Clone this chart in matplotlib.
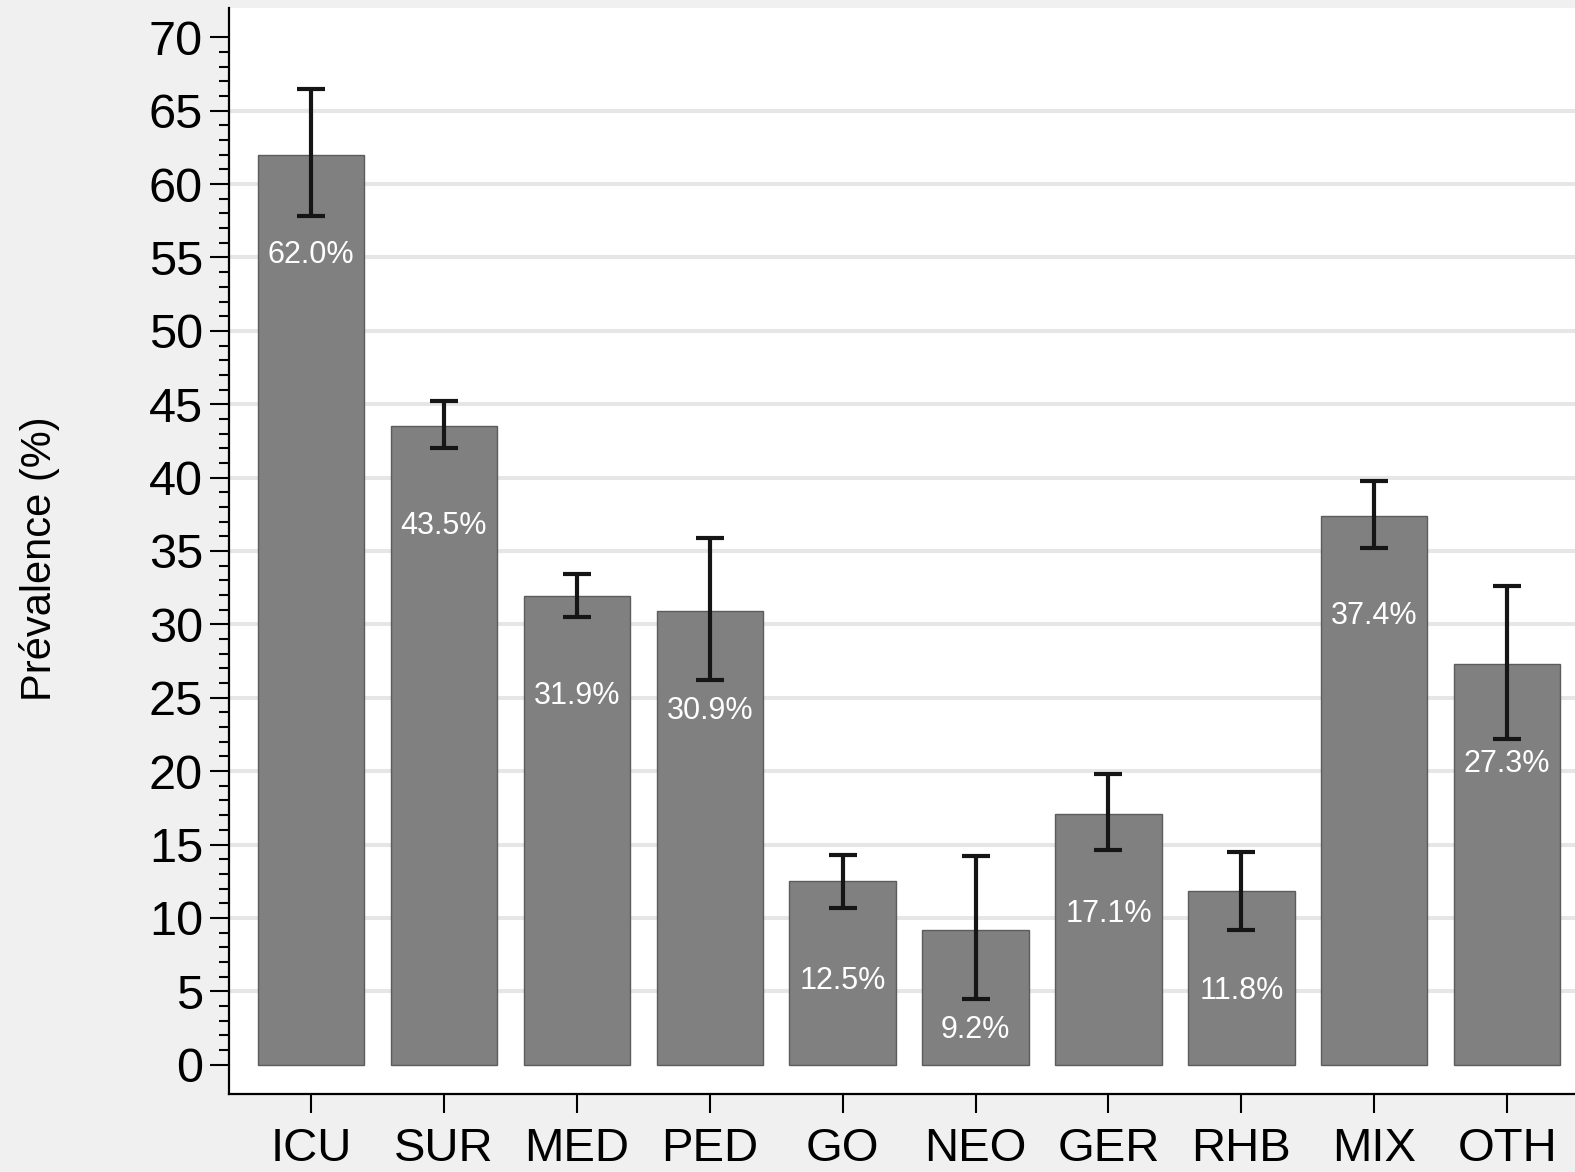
import matplotlib.pyplot as plt
import numpy as np
from matplotlib.ticker import FixedLocator

plt.rcParams['font.family'] = ['Liberation Sans', 'DejaVu Sans']

# prevalence by ward type, with 95% CI
wards = ['ICU', 'SUR', 'MED', 'PED', 'GO', 'NEO', 'GER', 'RHB', 'MIX', 'OTH']
prev = [62.0, 43.5, 31.9, 30.9, 12.5, 9.2, 17.1, 11.8, 37.4, 27.3]
ci_low = [57.8, 42.0, 30.5, 26.2, 10.7, 4.5, 14.6, 9.2, 35.2, 22.2]
ci_high = [66.5, 45.2, 33.4, 35.9, 14.3, 14.2, 19.8, 14.5, 39.8, 32.6]
yticks = list(range(0, 71, 5))

W, H = 1575, 1172
fig = plt.figure(figsize=(W / 100, H / 100), dpi=100, facecolor='#f0f0f0')
ax = fig.add_axes([229 / W, 78 / H, 1 - 229 / W, (1094 - 8) / H])
ax.set_facecolor('white')

x = np.arange(len(wards))
prev = np.array(prev)
yerr = [prev - np.array(ci_low), np.array(ci_high) - prev]

ax.bar(x, prev, width=0.8, color='#808080', edgecolor='#5c5c5c', linewidth=1.0, zorder=2)
ax.errorbar(x, prev, yerr=yerr, fmt='none', ecolor='#151515', elinewidth=3,
            capsize=10, capthick=3, zorder=3)

for xi, v in zip(x, prev):
    ax.annotate(f'{v:.1f}%', (xi, v), xytext=(0, -72), textcoords='offset points',
                ha='center', va='center', color='white', fontsize=22, zorder=4)

ax.set_xlim(-0.617, 9.51)
ax.set_ylim(-2, 72)
ax.set_xticks(x)
ax.set_xticklabels(wards, fontsize=34)
ax.set_yticks(yticks)
ax.set_yticklabels([str(t) for t in yticks], fontsize=35)
ax.yaxis.set_minor_locator(FixedLocator(np.arange(0, 71, 1)))

ax.tick_params(axis='y', which='major', length=13.7, width=1.5, pad=5)
ax.tick_params(axis='y', which='minor', length=7.2, width=1.5)
ax.tick_params(axis='x', which='major', length=13.7, width=1.5, pad=10)

ax.yaxis.grid(True, color='#e6e6e6', linewidth=2.9, zorder=0)
ax.set_axisbelow(True)
gl = ax.get_ygridlines()
gl[0].set_visible(False)
gl[-1].set_visible(False)

for s in ['top', 'right']:
    ax.spines[s].set_visible(False)
for s in ['left', 'bottom']:
    ax.spines[s].set_linewidth(1.6)
    ax.spines[s].set_color('black')

fig.text(40 / W, 1 - 559 / H, 'Prévalence (%)', rotation=90, ha='center', va='center',
         fontsize=30)

fig.savefig('out.png', dpi=100, facecolor=fig.get_facecolor())
